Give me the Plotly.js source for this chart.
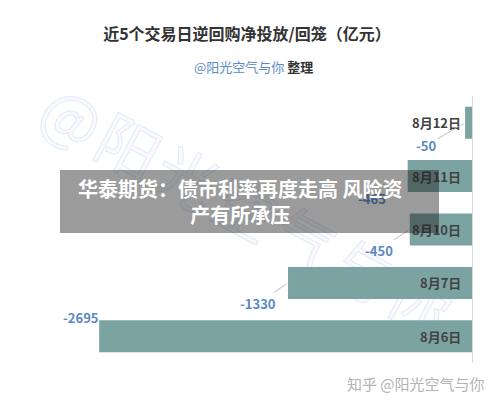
<!DOCTYPE html>
<html>
<head>
<meta charset="utf-8">
<script src="https://cdn.plot.ly/plotly-3.0.1.min.js"></script>
<style>
  html, body { margin: 0; padding: 0; background: #ffffff; }
  #wrap { position: relative; width: 500px; height: 403px; overflow: hidden; }
  #wm {
    position: absolute; left: 250px; top: 208px; z-index: 0;
    transform: translate(-50%, -50%) rotate(28deg);
    font-family: "Noto Sans CJK SC", sans-serif; font-size: 62px; font-weight: normal;
    color: #f8fafd; -webkit-text-stroke: 1px #e2eaf7; white-space: nowrap; letter-spacing: 4px;
  }
  #chart { position: absolute; left: 0; top: 0; width: 500px; height: 403px; z-index: 1; }
</style>
</head>
<body>
<div id="wrap">
  <div id="wm">@阳光空气与你</div>
  <div id="chart"></div>
</div>
<script>
// ---- data ----
const dates = ['8月6日', '8月7日', '8月10日', '8月11日', '8月12日'];
const netValues = [-2695, -1330, -450, -465, -50];
const titleText = '近5个交易日逆回购净投放/回笼（亿元）';
const subtitleSource = '@阳光空气与你';
const subtitleSuffix = '整理';
const bannerText = '华泰期货：债市利率再度走高 风险资<br>产有所承压';
const footerText = '知乎 @阳光空气与你';

// ---- label placement styles (pixel offsets from bar tips) ----
const valueLabelOffsets = [
  {ax: -18, ay: -18.5, arrow: false},
  {ax: -30, ay: 20.5, arrow: true},
  {ax: -31, ay: 20.5, arrow: true},
  {ax: -36, ay: 22.5, arrow: true},
  {ax: -39, ay: 23, arrow: true}
];

const FONT = '"Noto Sans CJK SC", "Noto Sans", sans-serif';
const BAR_COLOR = '#7ba3a1';
const VALUE_COLOR = '#5b88c6';

const annotations = [];

// date labels (right side, inside bar base)
dates.forEach((d) => {
  annotations.push({
    x: 0, y: d, xref: 'x', yref: 'y', text: d, showarrow: false,
    xanchor: 'right', yanchor: 'middle', xshift: -9,
    font: {family: FONT, size: 13, color: '#424242', weight: 'bold'}
  });
});

// value labels with leader lines
netValues.forEach((v, i) => {
  const o = valueLabelOffsets[i];
  annotations.push({
    x: v, y: dates[i], xref: 'x', yref: 'y', text: String(v),
    showarrow: true, arrowhead: 0, arrowwidth: 0.8,
    arrowcolor: o.arrow ? '#a9a9a9' : 'rgba(0,0,0,0)',
    standoff: i === 3 ? 10 : 2,
    ax: o.ax, ay: o.ay,
    font: {family: FONT, size: 13, color: VALUE_COLOR, weight: 'bold'}
  });
});

// subtitle
annotations.push({
  xref: 'paper', yref: 'paper', x: (253 - 57) / 415, y: (363 - 67) / 267,
  xanchor: 'center', yanchor: 'middle', showarrow: false,
  text: '<span style="color:#5b8ac6">' + subtitleSource + '</span> <b>' + subtitleSuffix + '</b>',
  font: {family: FONT, size: 13, color: '#333333'}
});

// footer
annotations.push({
  xref: 'paper', yref: 'paper', x: (487 - 57) / 415, y: (363 - 383) / 267,
  xanchor: 'right', yanchor: 'middle', showarrow: false,
  text: footerText,
  font: {family: FONT, size: 15, color: '#b3b3b3'}
});

// banner box
annotations.push({
  xref: 'paper', yref: 'paper', x: (249.5 - 57) / 415, y: (363 - 201.5) / 267,
  xanchor: 'center', yanchor: 'middle', showarrow: false,
  text: ' ', width: 379, height: 63, borderpad: 0, borderwidth: 0,
  bgcolor: 'rgba(28,28,28,0.44)',
  font: {family: FONT, size: 10, color: 'rgba(0,0,0,0)'}
});

// banner text
annotations.push({
  xref: 'paper', yref: 'paper', x: (240 - 57) / 415, y: (363 - 201) / 267,
  xanchor: 'center', yanchor: 'middle', showarrow: false, align: 'center',
  text: bannerText,
  font: {family: FONT, size: 20, color: '#ffffff', weight: 'bold'}
});

const trace = {
  type: 'bar', orientation: 'h',
  x: netValues, y: dates,
  marker: {color: BAR_COLOR, line: {width: 0}},
  hoverinfo: 'none', textposition: 'none'
};

const layout = {
  width: 500, height: 403,
  margin: {l: 57, r: 28, t: 96, b: 40, pad: 0},
  paper_bgcolor: 'rgba(0,0,0,0)', plot_bgcolor: 'rgba(0,0,0,0)',
  showlegend: false,
  bargap: 0.4,
  title: {
    text: '<b>' + titleText + '</b>',
    xref: 'container', yref: 'container', x: 0.494, y: 1 - 34 / 403,
    xanchor: 'center', yanchor: 'middle',
    font: {family: FONT, size: 16, color: '#333333'}
  },
  xaxis: {
    range: [-3000, 0], showgrid: false, zeroline: false, showticklabels: false,
    showline: false, ticks: '', fixedrange: true
  },
  yaxis: {
    type: 'category', categoryorder: 'array', categoryarray: dates,
    side: 'right', showline: true, linecolor: '#d9d9d9', linewidth: 1,
    showgrid: false, zeroline: false, showticklabels: false, ticks: '', fixedrange: true
  },
  annotations: annotations
};

Plotly.newPlot('chart', [trace], layout, {displayModeBar: false, staticPlot: true});
</script>
</body>
</html>
